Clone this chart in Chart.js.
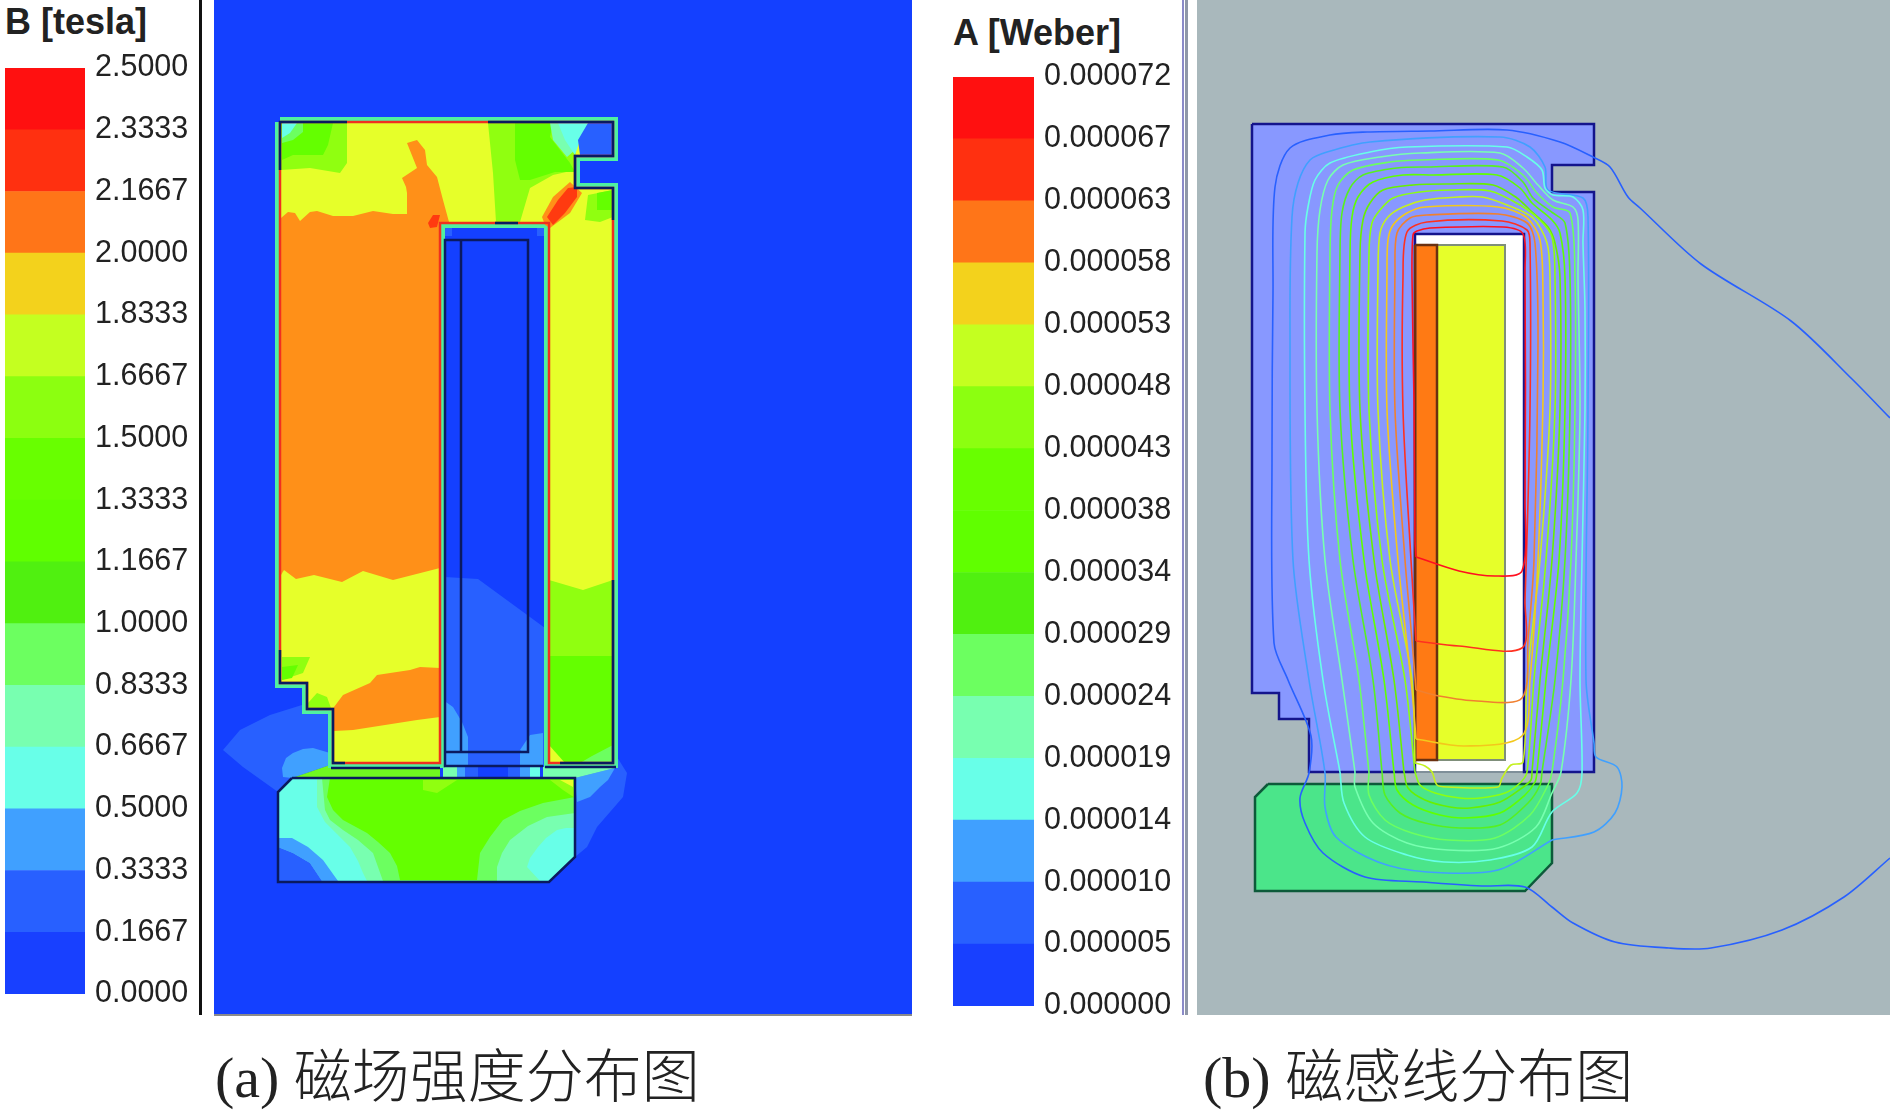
<!DOCTYPE html>
<html>
<head>
<meta charset="utf-8">
<title>磁场强度分布图 / 磁感线分布图</title>
<script src="https://cdn.jsdelivr.net/npm/chart.js@4"></script>
<style>
	html, body { margin: 0; padding: 0; background: #fff; width: 1890px; height: 1117px; overflow: hidden; }
	canvas { position: absolute; }
	.legend-title { position: absolute; font: bold 36px "Liberation Sans", sans-serif; color: #222; white-space: nowrap; line-height: 40px; }
	.caption { position: absolute; font: 300 58px "Liberation Serif", "Noto Sans CJK SC", serif; color: #222; white-space: nowrap; line-height: 70px; }
	.rule { position: absolute; top: 0; height: 1015px; }
</style>
</head>
<body>
<div class="legend-title" style="left:5px; top:2px;">B [tesla]</div>
<div class="legend-title" style="left:953px; top:13px;">A [Weber]</div>
<canvas id="legend-b" width="195" height="986" style="left:5px; top:38px;"></canvas>
<canvas id="legend-a" width="225" height="989" style="left:953px; top:47px; clip-path: inset(0 0 21px 0);"></canvas>
<div class="rule" style="left:199px; width:3px; background:#111;"></div>
<div class="rule" style="left:1182px; width:2px; background:#8a8ac8;"></div>
<div class="rule" style="left:1185px; width:3px; background:#8f97a8;"></div>
<canvas id="field-b" width="698" height="1015" style="left:214px; top:0;"></canvas>
<canvas id="field-a" width="693" height="1015" style="left:1197px; top:0;"></canvas>
<div class="rule" style="left:214px; top:1014px; width:698px; height:2px; background:#8a8a8a;"></div>
<div class="caption" style="left:215px; top:1043px;">(a) 磁场强度分布图</div>
<div class="caption" style="left:1203px; top:1043px;">(b) 磁感线分布图</div>

<script>
// legend
const band_colors = ['#1840ff', '#2860ff', '#40a0ff', '#68ffe8', '#78ffb0', '#6cff60', '#50f010', '#60ff00',
	'#68ff00', '#8cff10', '#c4ff20', '#f3d21c', '#ff7518', '#ff3010', '#ff1010'];
const b_labels = ['0.0000', '0.1667', '0.3333', '0.5000', '0.6667', '0.8333', '1.0000', '1.1667',
	'1.3333', '1.5000', '1.6667', '1.8333', '2.0000', '2.1667', '2.3333', '2.5000'];
const a_labels = ['0.000000', '0.000005', '0.000010', '0.000014', '0.000019', '0.000024', '0.000029', '0.000034',
	'0.000038', '0.000043', '0.000048', '0.000053', '0.000058', '0.000063', '0.000067', '0.000072'];
const band_steps = [1, 1, 1, 1, 1, 1, 1, 1, 1, 1, 1, 1, 1, 1, 1];

const c_bg = '#1440ff', c_blue = '#2860ff', c_light = '#40a0ff', c_cyan = '#68ffe8', c_teal = '#78ffb0', c_mid = '#6cff60';
const c_green = '#64ff00', c_lime = '#90ff10', c_yellow = '#e6ff2a', c_orange = '#ff9018', c_red = '#ff3a10';

// (a) outlines
const yoke_b = [[280,122],[613,122],[613,156],[575,156],[575,188],[613,188],[613,763],[549,763],[549,223],[440,223],[440,763],[333,763],[333,709],[307,709],[307,683],[280,683],[280,122]];
const armature_b = [[292,778],[575,778],[575,857],[549,882],[278,882],[278,792],[292,778]];
const coil_b = [[445,752],[445,240],[528,240],[528,752],[445,752]];
const coil_divider_b = [[461,240],[461,752]];
const coil_lower_b = [[445,752],[445,766],[543,766]];
const foot_left_b = [[331,768],[440,768]];
const foot_right_b = [[545,767],[616,767]];

// dark parts of the yoke edge
const dark_edges_b = [
	[[280,170],[280,122],[347,122]],
	[[488,122],[613,122],[613,156],[575,156],[575,188],[613,188],[613,220]],
	[[495,223],[518,223]],
	[[280,650],[280,683],[307,683],[307,709],[333,709],[333,763],[345,763]],
	[[613,580],[613,763],[560,763]]
];

// (a) field regions, colour comes with the name
const halo_left_dark = [[223,750],[240,730],[270,715],[302,705],[330,710],[330,765],[292,778],[278,792],[243,767]];
const halo_left_light = [[282,768],[286,758],[293,753],[303,749],[313,748],[330,753],[330,765],[292,778],[283,777]];
const halo_right_dark = [[617,757],[627,773],[623,797],[597,827],[587,847],[575,857],[575,778],[543,778],[543,767]];
const halo_right_light = [[575,778],[615,768],[608,780],[600,787],[590,797],[577,802]];
const gap_left = [[330,765],[440,765],[440,778],[292,778]];
const gap_right = [[543,767],[615,768],[575,778],[543,778]];
const gap_strip_teal_l = [[443,767],[457,767],[457,778],[443,778]];
const gap_strip_light_l = [[457,767],[465,767],[465,778],[457,778]];
const gap_strip_blue_l = [[465,767],[478,767],[478,778],[465,778]];
const gap_strip_blue_r = [[508,767],[520,767],[520,778],[508,778]];
const gap_strip_light_r = [[520,767],[530,767],[530,778],[520,778]];
const gap_strip_cyan_r = [[530,767],[540,767],[540,778],[530,778]];

const win_lower = [[445,577],[478,579],[545,628],[545,765],[445,765]];
const win_light_l = [[443,700],[453,707],[462,722],[468,737],[468,752],[443,752]];
const win_light_r = [[520,750],[530,735],[543,733],[543,763],[530,757]];
const win_strip_l = [[443,753],[468,753],[468,766],[443,766]];
const win_strip_r = [[520,753],[543,753],[543,766],[520,766]];
const win_corner_l = [[445,228],[452,228],[452,236],[445,236]];
const win_corner_r = [[537,228],[544,228],[544,236],[537,236]];

const left_orange = [[281,218],[288,212],[295,213],[300,221],[310,212],[317,211],[333,216],[353,216],[373,211],[393,214],[407,214],[407,193],[406,187],[402,178],[417,168],[407,143],[417,140],[425,150],[427,165],[437,177],[443,200],[449,222],[440,224],[440,568],[393,580],[363,571],[342,582],[314,575],[296,579],[284,570],[281,575]];
const left_red_spot = [[428,223],[433,215],[440,215],[437,227],[430,228]];
const lower_orange = [[334,707],[343,695],[370,683],[377,675],[410,670],[420,667],[440,668],[440,717],[417,720],[353,730],[334,731]];
const top_left_lime = [[281,122],[347,122],[347,163],[340,173],[310,168],[281,170]];
const top_left_green = [[282,123],[333,123],[328,145],[323,155],[293,155],[282,160]];
const top_left_mid = [[282,123],[303,123],[303,132],[293,140],[282,143]];
const top_left_cyan = [[282,123],[297,123],[290,133],[282,138]];
const top_right_lime = [[488,123],[577,123],[575,170],[553,175],[530,188],[520,222],[496,222],[493,173],[490,143]];
const top_right_green = [[515,123],[553,123],[550,137],[570,163],[575,172],[555,172],[530,180],[520,180],[515,160]];
const top_right_mid = [[550,123],[575,123],[575,150],[567,157],[553,140]];
const top_right_cyan = [[558,123],[588,123],[580,140],[575,155],[565,140]];
const top_right_blue = [[588,123],[613,123],[613,155],[580,155],[578,140]];
const diag_orange = [[542,217],[553,197],[570,182],[582,193],[570,213],[550,228],[545,225]];
const diag_red = [[547,217],[558,200],[568,188],[577,187],[577,197],[565,213],[553,225]];
const leg_top_lime = [[588,195],[613,190],[613,217],[600,222],[585,220]];
const leg_top_green = [[597,193],[613,190],[613,210],[597,210]];
const leg_right_lime = [[549,580],[583,590],[613,580],[613,763],[549,763]];
const leg_right_green = [[549,656],[613,656],[613,763],[549,763]];
const leg_right_yellow = [[549,745],[565,763],[549,763]];
const leg_right_mid = [[592,756],[613,745],[613,763],[580,763]];
const leg_left_lime = [[282,657],[310,657],[303,673],[282,680]];
const leg_left_green = [[282,667],[298,665],[292,678],[282,680]];
const step_lime = [[308,703],[317,693],[327,697],[331,708],[308,708]];

const arm_teal = [[317,778],[575,778],[575,857],[549,881],[367,881],[363,873],[358,861],[350,847],[337,834],[325,822],[317,807]];
const arm_cyan_r = [[575,828],[566,828],[557,830],[546,838],[538,847],[530,858],[527,867],[540,881],[549,881],[575,857]];
const arm_mid = [[322,778],[575,778],[575,813],[547,817],[528,826],[510,840],[502,853],[497,867],[497,881],[383,881],[378,867],[373,853],[358,840],[343,830],[330,820],[325,810]];
const arm_green = [[330,778],[575,778],[575,797],[543,803],[520,811],[503,820],[490,837],[480,853],[477,880],[400,880],[397,866],[390,853],[378,842],[367,833],[343,820],[333,810],[327,797]];
const arm_lime_top = [[423,780],[457,780],[437,793],[423,790]];
const arm_lime_corner = [[550,780],[575,780],[575,798],[563,790]];
const arm_yellow_corner = [[560,780],[573,780],[573,787]];
const arm_blue = [[278,847],[293,853],[310,863],[322,881],[278,881]];
const arm_light = [[278,838],[292,838],[308,847],[323,860],[338,881],[322,881],[310,863],[293,853],[278,847]];

// (b) outlines
const yoke_a = [[1252,124],[1594,124],[1594,165],[1552,165],[1552,192],[1594,192],[1594,772],[1524,772],[1524,234],[1415,234],[1415,772],[1309,772],[1309,719],[1279,719],[1279,693],[1252,693],[1252,124]];
const window_a = [[1415,234],[1524,234],[1524,772],[1415,772],[1415,234]];
const coil_orange_a = [[1415,245],[1437,245],[1437,760],[1415,760],[1415,245]];
const coil_yellow_a = [[1437,245],[1505,245],[1505,760],[1437,760],[1437,245]];
const armature_a = [[1268,784],[1552,784],[1552,863],[1525,891],[1255,891],[1255,797],[1268,784]];

// (b) flux lines, outermost first
const flux_0 = [[1890,858],[1844,897],[1782,930],[1711,948],[1669,948],[1615,942],[1573,923],[1552,907],[1525,887],[1482,886],[1423,882],[1365,877],[1323,853],[1305,823],[1300,798],[1309,773],[1311,736],[1288,680],[1274,643],[1272,450],[1273,293],[1275,187],[1290,148],[1330,135],[1367,132],[1430,131],[1507,130],[1560,142],[1593,157],[1610,167],[1628,197],[1640,208],[1701,264],[1791,321],[1852,379],[1890,418]];
const flux_1 = [[1552,840],[1498,870],[1427,872],[1378,862],[1336,837],[1325,807],[1325,773],[1309,680],[1293,560],[1290,327],[1292,217],[1298,183],[1310,160],[1327,152],[1370,142],[1500,137],[1530,147],[1545,167],[1548,190],[1583,198],[1588,217],[1588,410],[1586,680],[1594,743],[1596,757],[1617,767],[1622,787],[1615,813],[1594,832],[1552,840]];
const flux_2 = [[1340,772],[1344,803],[1365,837],[1407,855],[1444,862],[1490,860],[1532,847],[1552,812],[1577,793],[1582,773],[1580,680],[1582,560],[1585,410],[1585,310],[1583,243],[1583,210],[1573,197],[1553,195],[1545,188],[1542,170],[1527,157],[1507,147],[1407,147],[1370,152],[1330,163],[1315,180],[1308,207],[1305,233],[1305,410],[1309,560],[1323,680],[1340,772]];
const flux_3 = [[1355,772],[1355,787],[1373,823],[1407,843],[1448,850],[1498,848],[1536,827],[1552,793],[1561,772],[1571,680],[1576,560],[1580,410],[1578,277],[1578,220],[1573,207],[1553,200],[1538,185],[1523,168],[1500,153],[1420,153],[1380,157],[1343,165],[1328,180],[1320,210],[1317,253],[1317,410],[1325,560],[1342,680],[1355,772]];
const flux_4 = [[1369,772],[1369,795],[1385,820],[1412,833],[1448,840],[1495,838],[1530,815],[1548,785],[1552,772],[1563,680],[1571,560],[1575,410],[1575,277],[1570,213],[1553,207],[1537,193],[1523,175],[1498,160],[1420,160],[1390,162],[1353,170],[1338,185],[1332,210],[1330,253],[1330,410],[1340,560],[1359,680],[1369,772]];
const flux_5 = [[1382,772],[1385,795],[1400,813],[1425,823],[1460,828],[1500,825],[1528,803],[1540,785],[1542,772],[1555,680],[1565,560],[1570,410],[1570,277],[1565,223],[1553,213],[1533,198],[1523,182],[1503,167],[1427,167],[1397,168],[1363,175],[1350,188],[1342,213],[1340,253],[1340,410],[1353,560],[1373,680],[1382,772]];
const flux_6 = [[1394,772],[1397,790],[1413,805],[1440,815],[1465,818],[1500,813],[1525,795],[1535,782],[1537,772],[1546,680],[1559,560],[1565,410],[1565,277],[1560,233],[1552,220],[1532,203],[1520,188],[1497,175],[1433,175],[1403,175],[1373,182],[1358,197],[1352,217],[1350,253],[1350,410],[1364,560],[1384,680],[1394,772]];
const flux_7 = [[1404,772],[1408,788],[1425,800],[1450,807],[1470,808],[1500,802],[1522,788],[1531,780],[1532,772],[1540,680],[1552,560],[1560,410],[1560,277],[1555,243],[1548,227],[1530,210],[1517,198],[1493,185],[1447,184],[1413,185],[1383,190],[1370,203],[1363,220],[1360,253],[1360,410],[1374,560],[1394,680],[1404,772]];
const flux_8 = [[1415,772],[1420,785],[1435,793],[1460,798],[1480,798],[1505,793],[1520,783],[1527,772],[1534,680],[1546,560],[1555,410],[1555,277],[1552,237],[1540,220],[1520,205],[1490,191],[1450,190],[1420,192],[1393,198],[1380,210],[1372,223],[1369,253],[1369,410],[1382,560],[1405,680],[1415,772]];
const flux_9 = [[1415,763],[1425,766],[1432,772],[1437,785],[1448,787],[1498,787],[1502,778],[1511,765],[1523,762],[1527,680],[1540,560],[1550,410],[1550,277],[1547,243],[1533,218],[1507,205],[1482,197],[1458,197],[1425,200],[1403,207],[1388,217],[1380,233],[1378,270],[1378,410],[1390,560],[1412,680],[1415,763]];
const flux_10 = [[1416,739],[1465,746],[1522,736],[1530,680],[1538,560],[1543,400],[1543,297],[1540,240],[1527,218],[1498,207],[1425,207],[1407,213],[1393,225],[1388,240],[1387,270],[1387,410],[1398,560],[1412,690],[1416,739]];
const flux_11 = [[1416,690],[1439,696],[1477,701],[1522,698],[1528,640],[1534,560],[1538,343],[1535,243],[1527,223],[1498,214],[1427,215],[1410,218],[1397,233],[1395,270],[1395,410],[1405,560],[1412,640],[1416,690]];
const flux_12 = [[1416,641],[1459,646],[1522,648],[1525,600],[1530,410],[1530,243],[1527,230],[1502,221],[1427,222],[1407,232],[1403,277],[1403,410],[1411,560],[1416,641]];
const flux_13 = [[1416,557],[1459,571],[1495,576],[1522,571],[1525,500],[1525,270],[1523,234],[1503,227],[1430,228],[1417,231],[1413,235],[1412,277],[1414,400],[1415,540],[1416,557]];
const flux_colors = ['#2860ff', '#40a0ff', '#68ffe8', '#78ffb0', '#6cff60', '#58f020', '#60ff00', '#68f000',
	'#8cff10', '#c4f020', '#f3c81c', '#f08030', '#ff3020', '#ff1020'];


// Chart functions


function toPoints(points) {
	return points.map(([x, y]) => ({x, y}));
}

function region(points, color) {
	return {data: toPoints(points), showLine: true, fill: 'shape', backgroundColor: color, borderWidth: 0, pointRadius: 0};
}

function stroke(points, color, width) {
	return {data: toPoints(points), showLine: true, fill: false, borderColor: color, borderWidth: width, pointRadius: 0, borderJoinStyle: 'miter'};
}

// paint order is the list order, the library draws the first dataset last
function drawField(canvas_id, x_min, x_max, layers) {
	new Chart(document.getElementById(canvas_id), {
		type: 'scatter',
		data: {datasets: layers.slice().reverse()},
		options: {
			responsive: false,
			animation: false,
			events: [],
			layout: {padding: 0, autoPadding: false},
			scales: {
				x: {type: 'linear', display: false, min: x_min, max: x_max},
				y: {type: 'linear', display: false, min: 0, max: 1015, reverse: true}
			},
			plugins: {legend: {display: false}, tooltip: {enabled: false}}
		}
	});
}

function drawLegend(canvas_id, labels, axis_width) {
	new Chart(document.getElementById(canvas_id), {
		type: 'bar',
		data: {
			labels: [''],
			datasets: band_steps.map((step, i) => ({data: [step], backgroundColor: band_colors[i], barPercentage: 1, categoryPercentage: 1, borderWidth: 0}))
		},
		options: {
			responsive: false,
			animation: false,
			events: [],
			layout: {padding: {top: 30, bottom: 30}, autoPadding: false},
			scales: {
				x: {stacked: true, display: false},
				y: {
					stacked: true,
					position: 'right',
					min: 0,
					max: band_steps.length,
					border: {display: false},
					grid: {display: false, drawTicks: false},
					afterFit: scale => { scale.width = axis_width; },
					ticks: {
						stepSize: 1,
						padding: 10,
						color: '#222',
						font: {family: '"Liberation Sans"', size: 30.5},
						autoSkip: false,
						callback: value => labels[value]
					}
				}
			},
			plugins: {legend: {display: false}, tooltip: {enabled: false}}
		}
	});
}

drawLegend('legend-b', b_labels, 115);
drawLegend('legend-a', a_labels, 144);

drawField('field-b', 214, 912, [
	region([[214,0],[912,0],[912,1015],[214,1015]], c_bg),
	region(halo_left_dark, c_blue),
	region(halo_right_dark, c_blue),
	region(halo_left_light, c_light),
	region(halo_right_light, c_light),
	region(win_lower, c_blue),
	region(win_light_l, c_light),
	region(win_light_r, c_light),
	region(win_strip_l, c_light),
	region(win_strip_r, c_light),
	region(win_corner_l, c_blue),
	region(win_corner_r, c_blue),
	region(gap_left, '#70f820'),
	region(gap_right, c_teal),
	region(gap_strip_teal_l, c_teal),
	region(gap_strip_light_l, c_light),
	region(gap_strip_blue_l, c_blue),
	region(gap_strip_blue_r, c_blue),
	region(gap_strip_light_r, c_light),
	region(gap_strip_cyan_r, c_cyan),
	stroke(yoke_b, '#50f0a0', 10),
	region(yoke_b, c_yellow),
	region(left_orange, c_orange),
	region(left_red_spot, c_red),
	region(lower_orange, c_orange),
	region(top_left_lime, c_lime),
	region(top_left_green, c_green),
	region(top_left_mid, c_mid),
	region(top_left_cyan, c_cyan),
	region(top_right_lime, c_lime),
	region(top_right_green, c_green),
	region(top_right_mid, c_teal),
	region(top_right_cyan, c_cyan),
	region(top_right_blue, c_blue),
	region(diag_orange, c_orange),
	region(diag_red, c_red),
	region(leg_top_lime, c_lime),
	region(leg_top_green, c_green),
	region(leg_right_lime, c_lime),
	region(leg_right_green, c_green),
	region(leg_right_yellow, c_yellow),
	region(leg_right_mid, c_mid),
	region(leg_left_lime, c_lime),
	region(leg_left_green, c_green),
	region(step_lime, c_lime),
	region(armature_b, c_cyan),
	region(arm_teal, c_teal),
	region(arm_cyan_r, c_cyan),
	region(arm_mid, c_mid),
	region(arm_green, c_green),
	region(arm_lime_top, c_lime),
	region(arm_lime_corner, c_lime),
	region(arm_yellow_corner, c_yellow),
	region(arm_light, c_light),
	region(arm_blue, c_blue),
	stroke(yoke_b, '#f03020', 2.5),
	...dark_edges_b.map(edge => stroke(edge, '#0a1a60', 2.5)),
	stroke(coil_b, '#0a1a60', 2.5),
	stroke(coil_divider_b, '#0a1a60', 2.5),
	stroke(coil_lower_b, '#0a1a60', 2.5),
	stroke(foot_left_b, '#0a1a60', 2.5),
	stroke(foot_right_b, '#0a1a60', 2.5),
	stroke(armature_b, '#0a1a60', 2.5)
]);

const flux_lines = [flux_0, flux_1, flux_2, flux_3, flux_4, flux_5, flux_6, flux_7, flux_8, flux_9, flux_10, flux_11, flux_12, flux_13];

drawField('field-a', 1197, 1890, [
	region([[1197,0],[1890,0],[1890,1015],[1197,1015]], '#a9b8bc'),
	region(yoke_a, '#8898ff'),
	region(armature_a, '#4be58a'),
	region(window_a, '#ffffff'),
	region(coil_yellow_a, '#e6ff2a'),
	region(coil_orange_a, '#ff7a14'),
	stroke(window_a, '#7f8f99', 2),
	stroke(coil_yellow_a, '#7f8f7a', 2),
	stroke(yoke_a, '#14148c', 2.5),
	stroke(armature_a, '#0d5a3a', 2.5),
	stroke(coil_orange_a, '#6a3010', 2.5),
	...flux_lines.map((line, i) => ({...stroke(line, flux_colors[i], 1.6), tension: 0.3}))
]);
</script>
</body>
</html>
